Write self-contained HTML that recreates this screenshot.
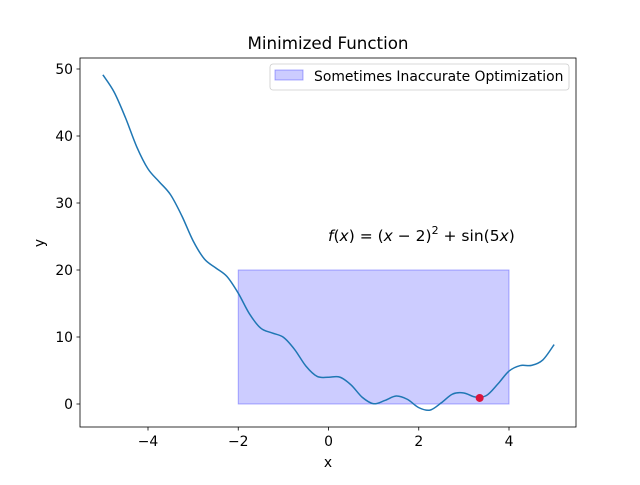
<!DOCTYPE html>
<html><head><meta charset="utf-8"><style>
body{margin:0;background:#fff}
svg text{font-family:"DejaVu Sans","Liberation Sans",sans-serif;fill:#000}
</style></head><body>
<svg id="chart" width="640" height="480" xmlns="http://www.w3.org/2000/svg">
<rect x="0" y="0" width="640" height="480" fill="#fff"/>
<g id="plot"></g>
<rect x="80" y="58" width="496" height="369" fill="none" stroke="#000" stroke-width="0.8"/>
<g id="xt"></g><g id="yt"></g>
<text x="328" y="49" font-size="16.7" text-anchor="middle">Minimized Function</text>
<text x="328" y="467" font-size="13.9" text-anchor="middle">x</text>
<text x="44" y="243" font-size="13.9" text-anchor="middle" transform="rotate(-90 44 243)">y</text>
<text x="328" y="241" font-size="15.5" font-family="DejaVu Serif"><tspan font-style="italic">f</tspan>(<tspan font-style="italic">x</tspan>) = (<tspan font-style="italic">x</tspan> − 2)<tspan dy="-7" font-size="11">2</tspan><tspan dy="7"> + sin(5</tspan><tspan font-style="italic">x</tspan>)</text>
<g>
<rect x="270" y="64" width="299" height="26" rx="3" fill="#fff" stroke="#ccc" stroke-width="0.8"/>
<rect x="275" y="70" width="28" height="10" fill="rgba(0,0,255,0.2)" stroke="rgba(0,0,255,0.3)"/>
<text x="314" y="81" font-size="13.9">Sometimes Inaccurate Optimization</text>
</g>
</svg>
<script>
const xs=[-5,-4.75,-4.5,-4.25,-4,-3.75,-3.5,-3.25,-3,-2.75,-2.5,-2.25,-2,-1.75,-1.5,-1.25,-1,-0.75,-0.5,-0.25,0,0.25,0.5,0.75,1,1.25,1.5,1.75,2,2.25,2.5,2.75,3,3.25,3.5,3.75,4,4.25,4.5,4.75,5];
const ys=[49.13,46.55,42.74,38.39,35.09,33.16,31.23,28.08,24.35,21.64,20.32,19.03,16.54,13.44,11.31,10.60,9.96,8.13,5.65,4.11,4.0,4.01,2.85,0.99,0.04,0.53,1.19,0.69,-0.54,-0.91,0.18,1.49,1.65,1.05,1.27,2.96,4.91,5.74,5.76,6.58,8.87];
const regionX=[-2,4];
const regionY=[0,20];
const minPoint=[3.35,0.9];
const xTicks=[-4,-2,0,2,4];
const yTicks=[0,10,20,30,40,50];
const X=v=>148+(v+4)*45.125;
const Y=v=>404-v*6.7;
const NS="http://www.w3.org/2000/svg";
const plot=document.getElementById('plot');
function mk(t,a,p){const e=document.createElementNS(NS,t);for(const k in a)e.setAttribute(k,a[k]);(p||plot).appendChild(e);return e;}
const r=mk('rect',{x:X(regionX[0]),y:Y(regionY[1]),width:X(regionX[1])-X(regionX[0]),height:Y(regionY[0])-Y(regionY[1]),fill:'rgba(0,0,255,0.2)',stroke:'rgba(0,0,255,0.3)'});


const P=xs.map((x,i)=>[X(x),Y(ys[i])]);
let d='M'+P[0][0]+','+P[0][1];
for(let i=0;i<P.length-1;i++){const p0=P[Math.max(0,i-1)],p1=P[i],p2=P[i+1],p3=P[Math.min(P.length-1,i+2)];
d+=' C'+(p1[0]+(p2[0]-p0[0])/6)+','+(p1[1]+(p2[1]-p0[1])/6)+' '+(p2[0]-(p3[0]-p1[0])/6)+','+(p2[1]-(p3[1]-p1[1])/6)+' '+p2[0]+','+p2[1];}
const ln=mk('path',{d:d,fill:'none',stroke:'#1f77b4','stroke-width':1.5});


const c=mk('circle',{cx:X(minPoint[0]),cy:Y(minPoint[1]),r:4,fill:'crimson'});


const xt=document.getElementById('xt'),yt=document.getElementById('yt');
xTicks.forEach(v=>{mk('line',{x1:X(v),x2:X(v),y1:427,y2:430.5,stroke:'#000','stroke-width':0.8},xt);
const t=mk('text',{x:X(v),y:446,'font-size':13.9,'text-anchor':'middle'},xt);t.textContent=v<0?'−'+(-v):v;

});
yTicks.forEach(v=>{mk('line',{x1:76.5,x2:80,y1:Y(v),y2:Y(v),stroke:'#000','stroke-width':0.8},yt);
const t=mk('text',{x:73,y:Y(v)+5,'font-size':13.9,'text-anchor':'end'},yt);t.textContent=v;

});
</script>
</body></html>
